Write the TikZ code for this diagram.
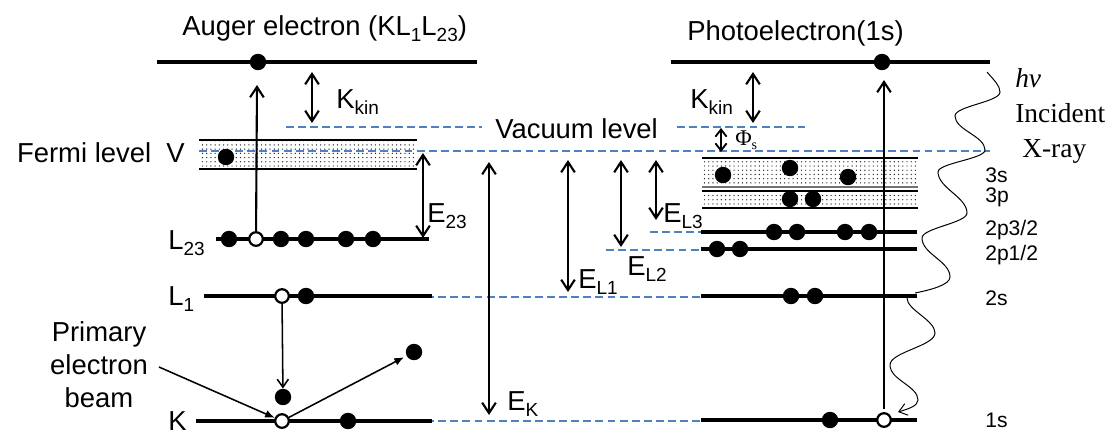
\documentclass[tikz,border=0pt]{standalone}
\usepackage{fontspec}
\setmainfont{Liberation Sans}
\newfontfamily\rayserif{Liberation Serif}
\usetikzlibrary{arrows.meta,patterns}
\definecolor{vacblue}{HTML}{4F81BD}
\newcommand{\lblsize}{\fontsize{19.5}{23.4}\selectfont}
\newcommand{\shellsize}{\fontsize{15}{18}\selectfont}
\newcommand{\lowsub}[1]{\raisebox{-0.25em}{\fontsize{13.5}{13.5}\selectfont#1}}

\begin{document}
\begin{tikzpicture}[x=0.025cm,y=-0.025cm,
  level/.style={line width=2.4pt},
  vacuum/.style={draw=vacblue,line width=1.4pt,dash pattern=on 5.6pt off 3pt},
  band/.style={pattern=dots,pattern color=black!85},
  bandline/.style={line width=0.8pt},
  elec/.style={circle,fill=black,inner sep=0pt,minimum size=0.41cm},
  hole/.style={circle,draw=black,fill=white,line width=1.6pt,inner sep=0pt,minimum size=0.34cm},
  gap/.style={{Straight Barb[length=2.6mm,width=3.4mm]}-{Straight Barb[length=2.6mm,width=3.4mm]},line width=1.5pt},
  rise/.style={-{Straight Barb[length=2.6mm,width=3.4mm]},line width=1.5pt},
  jump/.style={-{Latex[length=2.4mm,width=2mm]},line width=1.1pt},
  wave/.style={line width=0.7pt},
  lbl/.style={font=\lblsize,inner sep=0pt,anchor=base west},
  shell/.style={font=\shellsize,inner sep=0pt,anchor=west},
  ray/.style={font=\rayserif\lblsize,inner sep=0pt,anchor=base west}
]
\useasboundingbox (0,0) rectangle (1114,436);

% valence bands
\fill[band] (199,140) rectangle (417,169);
\draw[bandline] (199,140) -- (417,140) (199,169) -- (417,169);
\fill[band] (702,158) rectangle (918,187);
\fill[band] (702,191) rectangle (918,208);
\draw[bandline] (702,158) -- (918,158) (702,191) -- (918,191) (702,208) -- (918,208);
\draw[bandline,black!55] (702,187) -- (918,187);

% vacuum, Fermi and binding levels
\draw[vacuum] (286,127) -- (482,127);
\draw[vacuum] (677,127) -- (805,127);
\draw[vacuum] (199,151) -- (990,151);
\draw[vacuum] (402,297) -- (701,297);
\draw[vacuum] (402,421) -- (701,421);
\draw[vacuum] (606,250) -- (701,250);
\draw[vacuum] (650,232) -- (701,232);

% shells
\draw[level] (157,62) -- (477,62);
\draw[level] (216,239) -- (429,239);
\draw[level] (204,296) -- (432,296);
\draw[level] (196,421) -- (432,421);
\draw[level] (671,62) -- (990,62);
\draw[level] (701,232) -- (917,232);
\draw[level] (701,249) -- (917,249);
\draw[level] (701,296) -- (917,296);
\draw[level] (701,420) -- (917,420);

% titles and labels
\node[lbl] (augtitle) at (182,35) {Auger electron (KL\lowsub{1}L\lowsub{23})};
\node[lbl] (phtitle) at (687,40) {Photoelectron(1s)};
\node[lbl] (vaclbl) at (495,138) {Vacuum level};
\node[lbl,anchor=base east] (fermilbl) at (185,162) {Fermi level\ \ V};
\node[lbl] (l23lbl) at (168,249) {L\lowsub{23}};
\node[lbl] (l1lbl) at (168,305) {L\lowsub{1}};
\node[lbl] (klbl) at (168,430) {K};
\node[font=\lblsize,align=center,inner sep=0pt] (beamlbl) at (99,365) {Primary\\electron\\beam};
\node[lbl] (kkinl) at (336,108) {K\lowsub{kin}};
\node[lbl] (kkinr) at (690,108) {K\lowsub{kin}};
\node[lbl] (e23lbl) at (427,222) {E\lowsub{23}};
\node[lbl] (eklbl) at (507,410) {E\lowsub{K}};
\node[lbl] (el1lbl) at (578,288) {E\lowsub{L1}};
\node[lbl] (el2lbl) at (627,275) {E\lowsub{L2}};
\node[lbl] (el3lbl) at (663,222) {E\lowsub{L3}};
\node[font=\rayserif\fontsize{16}{16}\selectfont,inner sep=0pt,anchor=base west] (phislbl) at (735,145) {Φ\raisebox{-0.2em}{\fontsize{10}{10}\selectfont s}};
\node[shell] (s3s) at (985,175) {3s};
\node[shell] (s3p) at (985,197) {3p};
\node[shell] (s2p3) at (985,230) {2p3/2};
\node[shell] (s2p1) at (985,255) {2p1/2};
\node[shell] (s2s) at (985,298) {2s};
\node[shell] (s1s) at (985,420) {1s};
\node[ray] (hvlbl) at (1015,87) {\itshape hv};
\node[ray] (inclbl) at (1015,122) {Incident};
\node[ray] (xraylbl) at (1022,157) {X-ray};

% energy gaps
\coordinate (kkinla) at (312,72);   \coordinate (kkinlb) at (312,123);
\coordinate (kkinra) at (753,72);   \coordinate (kkinrb) at (753,123);
\coordinate (phisa) at (721,128);   \coordinate (phisb) at (721,152);
\coordinate (e23a) at (423,153);    \coordinate (e23b) at (423,238);
\coordinate (eka) at (489,162);     \coordinate (ekb) at (489,415);
\coordinate (el1a) at (568,160);    \coordinate (el1b) at (568,292);
\coordinate (el2a) at (621,160);    \coordinate (el2b) at (621,247);
\coordinate (el3a) at (656,160);    \coordinate (el3b) at (656,220);
\draw[gap] (kkinla) -- (kkinlb);
\draw[gap] (kkinra) -- (kkinrb);
\draw[{Straight Barb[length=1.8mm,width=2.8mm]}-{Straight Barb[length=1.8mm,width=2.8mm]},line width=1.3pt] (phisa) -- (phisb);
\draw[gap] (e23a) -- (e23b);
\draw[gap] (eka) -- (ekb);
\draw[gap] (el1a) -- (el1b);
\draw[gap] (el2a) -- (el2b);
\draw[gap] (el3a) -- (el3b);

% electrons and holes, Auger side
\node[elec] (eaug) at (258,62) {};
\node[elec] (eval) at (226,157) {};
\node[elec] (e23p) at (229,239) {};
\node[hole] (h23) at (256,239) {};
\node[elec] (e23q) at (281,239) {};
\node[elec] (e23r) at (306,239) {};
\node[elec] (e23s) at (346,239) {};
\node[elec] (e23t) at (373,239) {};
\node[hole] (hl1) at (282,296) {};
\node[elec] (el1) at (306,296) {};
\node[hole] (hk) at (282,421) {};
\node[elec] (ek) at (348,421) {};
\node[elec] (edrop) at (283,397) {};
\node[elec] (eout) at (414,352) {};

\coordinate (augtip) at (257,85);
\coordinate (beamsrc) at (159,367);
\draw[rise] (h23) -- (augtip);
\draw[-{Straight Barb[length=2mm,width=2.8mm]},line width=1.1pt] (hl1) -- (edrop);
\draw[jump] (beamsrc) -- (hk);
\draw[jump,shorten >=2pt] (hk) -- (eout);

% electrons and holes, photoelectron side
\node[hole] (h1s) at (884,420) {};
\coordinate (phtip) at (884,80);
\draw[rise,shorten <=2pt] (h1s) -- (phtip);
\node[elec] (ephoto) at (882,62) {};
\node[elec] (e3sa) at (723,175) {};
\node[elec] (e3sb) at (790,168) {};
\node[elec] (e3sc) at (848,177) {};
\node[elec] (e3pa) at (790,199) {};
\node[elec] (e3pb) at (813,199) {};
\node[elec] (e2pa) at (774,232) {};
\node[elec] (e2pb) at (797,232) {};
\node[elec] (e2pc) at (845,232) {};
\node[elec] (e2pd) at (869,232) {};
\node[elec] (e2qa) at (717,249) {};
\node[elec] (e2qb) at (740,249) {};
\node[elec] (e2sa) at (791,296) {};
\node[elec] (e2sb) at (815,296) {};
\node[elec] (e1s) at (830,420) {};

% incident X-ray
\draw[wave] (987,72) .. controls (994,80) and (1000,86) .. (1000,92)
  .. controls (1000,102) and (955,106) .. (955,116)
  .. controls (955,130) and (985,136) .. (985,150)
  .. controls (985,159) and (938,163) .. (938,172)
  .. controls (938,188) and (967,197) .. (967,213)
  .. controls (967,223) and (922,228) .. (922,238)
  .. controls (922,254) and (950,261) .. (950,277)
  .. controls (950,285) and (930,290) .. (915,293);
\draw[wave,-{Straight Barb[length=2mm,width=3mm]}] (907,298) .. controls (907,310) and (935,320) .. (935,333)
  .. controls (935,346) and (890,352) .. (890,365)
  .. controls (890,380) and (918,386) .. (918,400)
  .. controls (918,406) and (908,409) .. (898,412);
\end{tikzpicture}
\end{document}
